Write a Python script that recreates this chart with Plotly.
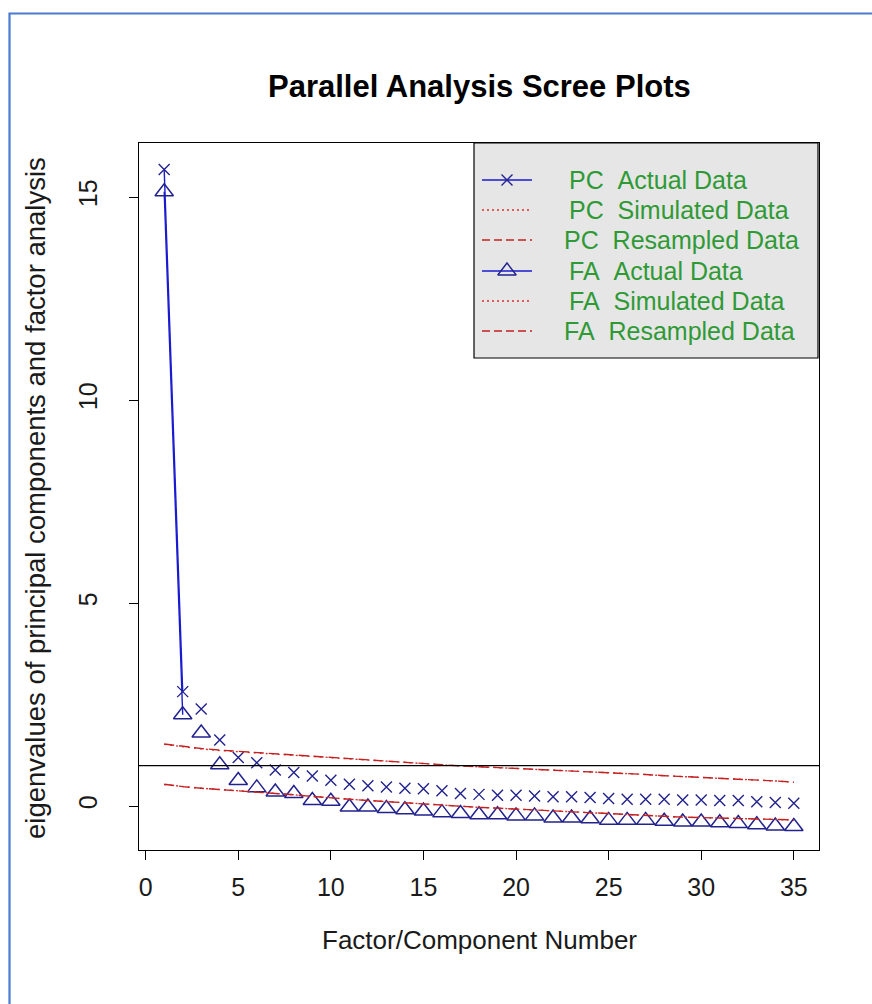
import plotly.graph_objects as go

# Eigenvalues for each factor / component
factor_number = list(range(1, 36))

pc_actual = [15.68, 2.82, 2.39, 1.63, 1.20, 1.07, 0.89, 0.83, 0.74, 0.64,
             0.54, 0.50, 0.47, 0.44, 0.43, 0.38, 0.31, 0.29, 0.27, 0.27,
             0.25, 0.23, 0.23, 0.21, 0.19, 0.17, 0.17, 0.17, 0.15, 0.15,
             0.14, 0.14, 0.11, 0.09, 0.07]

fa_actual = [15.13, 2.25, 1.80, 1.02, 0.63, 0.45, 0.35, 0.31, 0.14, 0.12,
             -0.02, -0.02, -0.06, -0.09, -0.12, -0.16, -0.18, -0.21, -0.21, -0.24,
             -0.24, -0.29, -0.29, -0.31, -0.35, -0.35, -0.35, -0.37, -0.39, -0.39,
             -0.41, -0.43, -0.46, -0.49, -0.50]

pc_simulated = [1.52, 1.46, 1.41, 1.37, 1.34, 1.31, 1.28, 1.25, 1.22, 1.19,
                1.16, 1.13, 1.10, 1.07, 1.04, 1.01, 0.99, 0.97, 0.95, 0.93,
                0.91, 0.89, 0.87, 0.85, 0.82, 0.80, 0.78, 0.75, 0.73, 0.71,
                0.69, 0.66, 0.64, 0.62, 0.59]

pc_resampled = [1.53, 1.47, 1.42, 1.38, 1.35, 1.31, 1.28, 1.26, 1.23, 1.20,
                1.17, 1.14, 1.11, 1.08, 1.05, 1.02, 0.99, 0.97, 0.95, 0.93,
                0.91, 0.89, 0.87, 0.85, 0.82, 0.80, 0.78, 0.75, 0.73, 0.71,
                0.69, 0.66, 0.64, 0.62, 0.59]

fa_simulated = [0.53, 0.48, 0.44, 0.41, 0.38, 0.35, 0.31, 0.28, 0.24, 0.20,
                0.17, 0.14, 0.11, 0.08, 0.05, 0.02, -0.01, -0.03, -0.05, -0.07,
                -0.09, -0.12, -0.14, -0.16, -0.18, -0.20, -0.22, -0.25, -0.27, -0.28,
                -0.30, -0.31, -0.32, -0.33, -0.34]

fa_resampled = [0.54, 0.48, 0.44, 0.41, 0.38, 0.35, 0.31, 0.28, 0.24, 0.20,
                0.17, 0.14, 0.11, 0.08, 0.05, 0.02, -0.01, -0.03, -0.05, -0.07,
                -0.09, -0.12, -0.14, -0.16, -0.18, -0.20, -0.22, -0.25, -0.27, -0.28,
                -0.30, -0.31, -0.32, -0.33, -0.34]

x_ticks = [0, 5, 10, 15, 20, 25, 30, 35]
y_ticks = [0, 5, 10, 15]

legend_labels = ["PC\u00a0\u00a0Actual Data", "PC\u00a0\u00a0Simulated Data",
                 "PC\u00a0\u00a0Resampled Data", "FA\u00a0\u00a0Actual Data",
                 "FA\u00a0\u00a0Simulated Data", "FA\u00a0\u00a0Resampled Data"]

# page geometry (pixels)
W, H = 872, 1004
L, R, T, B = 139, 819, 143, 850


def px(x):
    return (x - L) / (R - L)


def py(y):
    return (B - y) / (B - T)


FONT = "Liberation Sans, Arial, sans-serif"
BLUE_LINE = "#1a1ad0"
BLUE_MARK = "#22228f"
RED = "#c42222"
RED_DOT = "#d83030"
GREEN = "#2f9a35"
TEXT = "#1a1a1a"

fig = go.Figure()

# actual eigenvalues: connecting segment between the first two values
fig.add_trace(go.Scatter(x=factor_number[:2], y=pc_actual[:2], mode="lines",
                         line=dict(color=BLUE_LINE, width=1.4), hoverinfo="skip"))
fig.add_trace(go.Scatter(x=factor_number[:2], y=fa_actual[:2], mode="lines",
                         line=dict(color=BLUE_LINE, width=1.4), hoverinfo="skip"))

fig.add_trace(go.Scatter(x=factor_number, y=pc_actual, mode="markers", name="PC Actual Data",
                         marker=dict(symbol="x-thin-open", size=11, color=BLUE_MARK,
                                     line=dict(color=BLUE_MARK, width=1.4))))
fig.add_trace(go.Scatter(x=factor_number, y=fa_actual, mode="markers", name="FA Actual Data",
                         marker=dict(symbol="triangle-up-open", size=16, color=BLUE_MARK,
                                     line=dict(color=BLUE_MARK, width=1.5))))

# simulated and resampled reference eigenvalues
for vals, dash, col, nm in [(pc_simulated, "2px,4px", RED_DOT, "PC Simulated Data"),
                            (pc_resampled, "10px,5px", RED, "PC Resampled Data"),
                            (fa_simulated, "2px,4px", RED_DOT, "FA Simulated Data"),
                            (fa_resampled, "10px,5px", RED, "FA Resampled Data")]:
    fig.add_trace(go.Scatter(x=factor_number, y=vals, mode="lines", name=nm,
                             line=dict(color=col, width=1.4, dash=dash)))

# eigenvalue = 1 reference line
fig.add_shape(type="line", xref="paper", yref="y", x0=0, x1=1, y0=1, y1=1,
              line=dict(color="black", width=1.2))

# ---- legend box (drawn on a pixel-scaled overlay axis) ----
LX0, LX1, LY0, LY1 = 474, 818, 143, 358
fig.add_shape(type="rect", xref="x2", yref="y2", x0=LX0, x1=LX1, y0=LY0, y1=LY1,
              fillcolor="#e6e6e6", line=dict(color="black", width=1.2), layer="below")

rows = [180, 210, 240, 271, 301, 331]
styles = [("solid", BLUE_LINE, "x-thin-open", 11),
          ("2px,3px", RED_DOT, None, 0),
          ("8px,4px", RED, None, 0),
          ("solid", BLUE_LINE, "triangle-up-open", 16),
          ("2px,3px", RED_DOT, None, 0),
          ("8px,4px", RED, None, 0)]
text_x = [567, 567, 562, 567, 567, 562]
for ry, (dash, col, sym, sz), lab, tx in zip(rows, styles, legend_labels, text_x):
    fig.add_trace(go.Scatter(x=[482, 532], y=[ry, ry], xaxis="x2", yaxis="y2", mode="lines",
                             line=dict(color=col, width=1.3, dash=dash), hoverinfo="skip"))
    if sym:
        fig.add_trace(go.Scatter(x=[507], y=[ry], xaxis="x2", yaxis="y2", mode="markers",
                                 marker=dict(symbol=sym, size=sz, color=BLUE_MARK,
                                             line=dict(color=BLUE_MARK, width=1.4)),
                                 hoverinfo="skip"))
    fig.add_annotation(x=tx, y=ry, xref="x2", yref="y2", text=lab, showarrow=False,
                       xanchor="left", yanchor="middle",
                       font=dict(family=FONT, size=25, color=GREEN))

# ---- titles ----
fig.add_annotation(x=px(479), y=py(87), xref="paper", yref="paper",
                   text="<b>Parallel Analysis Scree Plots</b>", showarrow=False,
                   xanchor="center", yanchor="middle",
                   font=dict(family=FONT, size=31, color="black"))
fig.add_annotation(x=px(479), y=py(940), xref="paper", yref="paper",
                   text="Factor/Component Number", showarrow=False,
                   xanchor="center", yanchor="middle",
                   font=dict(family=FONT, size=26, color=TEXT))
fig.add_annotation(x=px(35), y=py(498), xref="paper", yref="paper",
                   text="eigenvalues of principal components and factor analysis",
                   showarrow=False, textangle=-90, xanchor="center", yanchor="middle",
                   font=dict(family=FONT, size=27.5, color=TEXT))

# outer blue frame
fig.add_shape(type="rect", xref="paper", yref="paper",
              x0=px(9.5), x1=px(W + 20), y0=py(H + 20), y1=py(13.5),
              line=dict(color="#4a7bd0", width=2.2), fillcolor="rgba(0,0,0,0)")

axis_common = dict(showgrid=False, zeroline=False, showline=True, linecolor="black",
                   linewidth=1.2, mirror=True, ticks="outside", ticklen=9,
                   tickcolor="black", tickwidth=1.2,
                   tickfont=dict(family=FONT, size=25, color=TEXT))

fig.update_layout(
    width=W, height=H,
    margin=dict(l=L, r=W - R, t=T, b=H - B, pad=0),
    paper_bgcolor="white", plot_bgcolor="rgba(0,0,0,0)",
    showlegend=False,
    xaxis=dict(range=[-0.36, 36.36], tickvals=x_ticks, ticklabelstandoff=6, **axis_common),
    yaxis=dict(range=[-1.08, 16.33], tickvals=y_ticks, tickangle=-90,
               ticklabelstandoff=22, **axis_common),
    xaxis2=dict(range=[L, R], overlaying="x", visible=False, fixedrange=True),
    yaxis2=dict(range=[B, T], overlaying="y", visible=False, fixedrange=True),
)

fig.write_html("out.html")
